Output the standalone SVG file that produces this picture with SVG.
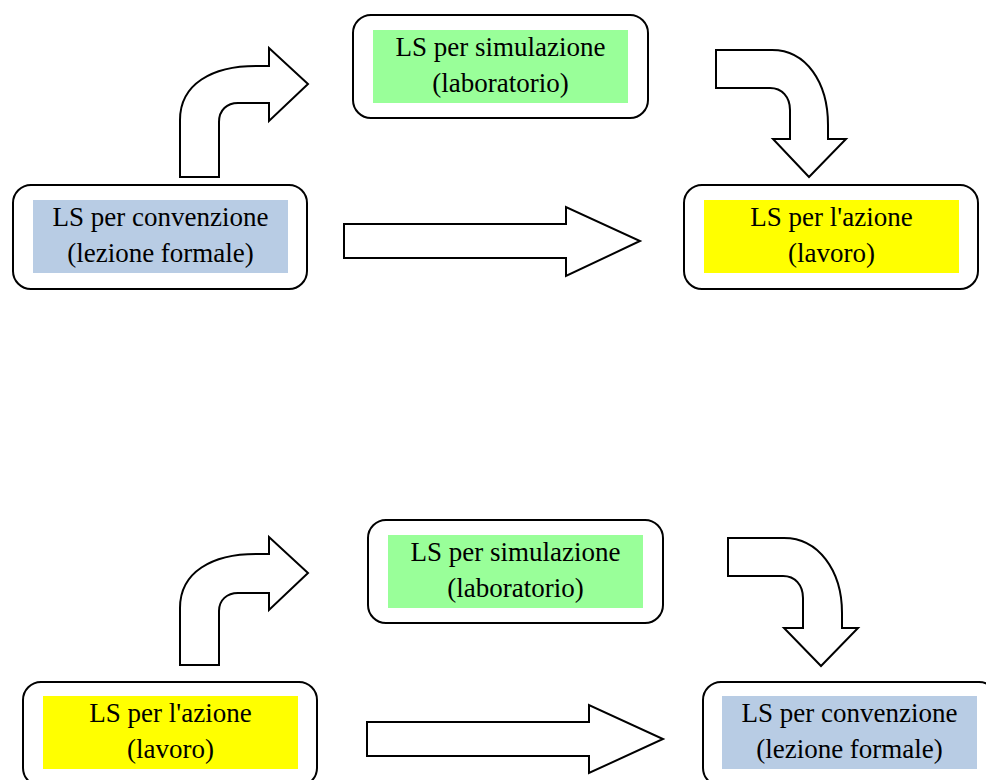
<svg xmlns="http://www.w3.org/2000/svg" width="986" height="780" viewBox="0 0 986 780">
<style>
.box{fill:#fff;stroke:#000;stroke-width:2}
.arr{fill:#fff;stroke:#000;stroke-width:2;stroke-linejoin:miter}
.t{font-family:"Liberation Serif","Times New Roman",serif;font-size:27px;fill:#000;text-anchor:middle}
.blue{fill:#B8CCE4}.green{fill:#99FF99}.yellow{fill:#FFFF00}
</style>
<rect width="986" height="780" fill="#fff"/>
<g id="connectors">
<path class="arr" d="M180,177 L180,120 C180,84 212,66 256,66 L269,66 L269,48 L308,84 L269,121 L269,103 L238,103 C227,103 219,110 219,122 L219,177 Z"/>
<path class="arr" d="M716,50 L772,50 C806,50 828,82 828,125 L828,139 L846,139 L809,177 L773,139 L790,139 L790,110 C790,97 782,88 770,88 L716,88 Z"/>
<path class="arr" d="M344,224 L566,224 L566,207 L640,241 L566,276 L566,258 L344,258 Z"/>
<path class="arr" d="M180,665 L180,608 C180,572 212,554 256,554 L269,554 L269,537 L308,573 L269,610 L269,593 L238,593 C227,593 219,600 219,611 L219,665 Z"/>
<path class="arr" d="M728,538 L784,538 C818,538 842,570 842,613 L842,628 L858,628 L821,666 L784,628 L803,628 L803,598 C803,585 795,576 783,576 L728,576 Z"/>
<path class="arr" d="M367,722 L589,722 L589,705 L663,739 L589,773 L589,756 L367,756 Z"/>
</g>
<g id="n1">
<rect class="box" x="13" y="185" width="294" height="104" rx="18"/>
<rect class="blue" x="33" y="200" width="255" height="73"/>
<text class="t" x="160.5" y="226">LS per convenzione</text>
<text class="t" x="160.5" y="262">(lezione formale)</text>
</g>
<g id="n2">
<rect class="box" x="353" y="15" width="295" height="103" rx="18"/>
<rect class="green" x="373" y="30" width="255" height="73"/>
<text class="t" x="500.5" y="56">LS per simulazione</text>
<text class="t" x="500.5" y="92">(laboratorio)</text>
</g>
<g id="n3">
<rect class="box" x="684" y="185" width="294" height="104" rx="18"/>
<rect class="yellow" x="704" y="200" width="255" height="73"/>
<text class="t" x="831.5" y="226">LS per l'azione</text>
<text class="t" x="831.5" y="262">(lavoro)</text>
</g>
<g id="n4">
<rect class="box" x="23" y="682" width="294" height="104" rx="18"/>
<rect class="yellow" x="43" y="696" width="255" height="73"/>
<text class="t" x="170.5" y="722">LS per l'azione</text>
<text class="t" x="170.5" y="758">(lavoro)</text>
</g>
<g id="n5">
<rect class="box" x="368" y="520" width="295" height="103" rx="18"/>
<rect class="green" x="388" y="535" width="255" height="73"/>
<text class="t" x="515.5" y="561">LS per simulazione</text>
<text class="t" x="515.5" y="597">(laboratorio)</text>
</g>
<g id="n6">
<rect class="box" x="703" y="682" width="294" height="104" rx="18"/>
<rect class="blue" x="722" y="696" width="255" height="73"/>
<text class="t" x="849.5" y="722">LS per convenzione</text>
<text class="t" x="849.5" y="758">(lezione formale)</text>
</g>
</svg>
